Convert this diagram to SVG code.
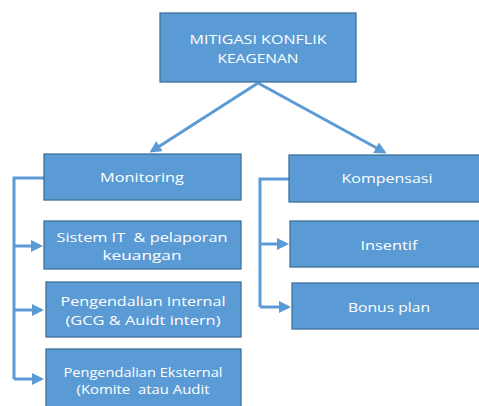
<svg xmlns="http://www.w3.org/2000/svg" width="479" height="406" viewBox="0 0 479 406">
<style>
.box{fill:#5B9BD5;stroke:#41719C;stroke-width:1.3}
.t{fill:#fff;font-family:"Open Sans","Liberation Sans",sans-serif;font-size:13px;text-anchor:middle;white-space:pre}
.c{fill:none;stroke:#5B9BD5;stroke-width:3}
</style>
<defs>
<marker id="ah" markerWidth="4" markerHeight="4" refX="3" refY="2" orient="auto" markerUnits="strokeWidth">
<path d="M0,0 L4,2 L0,4 Z" fill="#5B9BD5"/>
</marker>
</defs>
<rect width="479" height="406" fill="#fff"/>
<g id="connectors">
<line class="c" x1="258" y1="83" x2="152" y2="151" marker-end="url(#ah)"/>
<line class="c" x1="258" y1="83" x2="384" y2="152" marker-end="url(#ah)"/>
<polyline class="c" points="44,178 14,178 14,379"/>
<line class="c" x1="14" y1="246" x2="40" y2="246" marker-end="url(#ah)"/>
<line class="c" x1="14" y1="310" x2="41" y2="310" marker-end="url(#ah)"/>
<line class="c" x1="14" y1="379" x2="41" y2="379" marker-end="url(#ah)"/>
<polyline class="c" points="289,179 260,179 260,307"/>
<line class="c" x1="260" y1="244" x2="286" y2="244" marker-end="url(#ah)"/>
<line class="c" x1="260" y1="307" x2="288" y2="307" marker-end="url(#ah)"/>
</g>
<g id="root">
<rect class="box" x="160" y="13" width="196" height="69"/>
<text class="t" x="258" y="44" textLength="137" lengthAdjust="spacingAndGlyphs">MITIGASI KONFLIK</text>
<text class="t" x="258" y="63" textLength="81" lengthAdjust="spacingAndGlyphs">KEAGENAN</text>
</g>
<g id="monitoring">
<rect class="box" x="44" y="154" width="197" height="46"/>
<text class="t" x="142" y="182" textLength="84" lengthAdjust="spacingAndGlyphs">Monitoring</text>
</g>
<g id="sistem-it">
<rect class="box" x="44" y="221" width="197" height="48"/>
<text class="t" x="142" y="242" textLength="171" lengthAdjust="spacingAndGlyphs" xml:space="preserve">Sistem IT  &amp; pelaporan</text>
<text class="t" x="142" y="260" textLength="79" lengthAdjust="spacingAndGlyphs">keuangan</text>
</g>
<g id="internal">
<rect class="box" x="46" y="282" width="195" height="55"/>
<text class="t" x="143" y="306" textLength="165" lengthAdjust="spacingAndGlyphs">Pengendalian Internal</text>
<text class="t" x="143" y="325" textLength="155" lengthAdjust="spacingAndGlyphs">(GCG &amp; Auidt intern)</text>
</g>
<g id="eksternal">
<rect class="box" x="46" y="349" width="195" height="70"/>
<text class="t" x="143" y="377" textLength="159" lengthAdjust="spacingAndGlyphs">Pengendalian Eksternal</text>
<text class="t" x="143" y="394" textLength="133" lengthAdjust="spacingAndGlyphs" xml:space="preserve">(Komite  atau Audit</text>
</g>
<g id="kompensasi">
<rect class="box" x="289" y="155" width="200" height="47"/>
<text class="t" x="387" y="183" textLength="91" lengthAdjust="spacingAndGlyphs">Kompensasi</text>
</g>
<g id="insentif">
<rect class="box" x="290" y="221" width="200" height="46"/>
<text class="t" x="389" y="250" textLength="57" lengthAdjust="spacingAndGlyphs">Insentif</text>
</g>
<g id="bonus">
<rect class="box" x="292" y="283" width="200" height="46"/>
<text class="t" x="389" y="312" textLength="82" lengthAdjust="spacingAndGlyphs">Bonus plan</text>
</g>
</svg>
